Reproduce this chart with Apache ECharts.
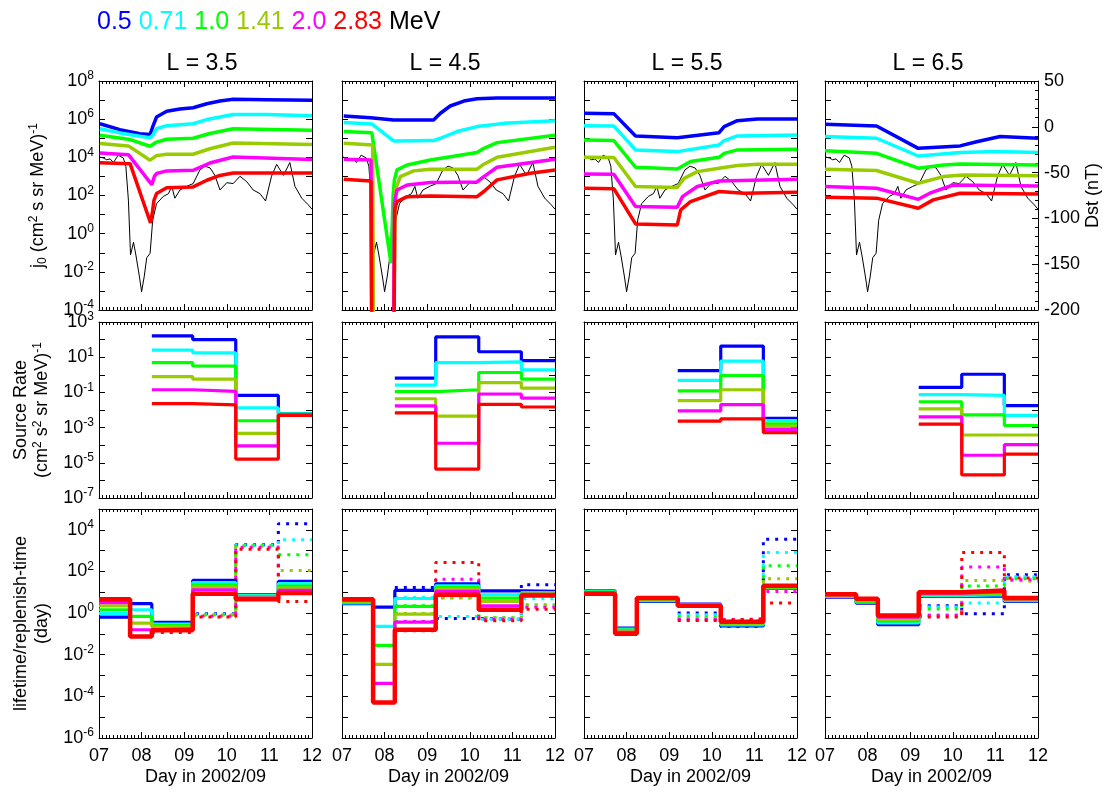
<!DOCTYPE html>
<html>
<head>
<meta charset="utf-8">
<script src="https://cdn.jsdelivr.net/npm/echarts@6/dist/echarts.min.js"></script>
<style>html,body{margin:0;padding:0;background:#fff;}#c{width:1109px;height:793px;}</style>
</head>
<body>
<div id="c"></div>
<script>
// ---------------- data ----------------
const energies = ['0.5', '0.71', '1.0', '1.41', '2.0', '2.83'];
const colors = ['#0000ff', '#00ffff', '#00ff00', '#99cc00', '#ff00ff', '#ff0000'];
const Lshells = ['3.5', '4.5', '5.5', '6.5'];
const dayTicks = [7, 8, 9, 10, 11, 12];
// bin edges (day of 2002/09) of the step-wise quantities
const binEdges = [7.0, 7.73, 8.24, 9.2, 10.21, 11.21, 12.0];

// Dst index (nT), [day, Dst]
const dst = [[7.02,-33],[7.1,-34],[7.18,-36],[7.26,-35],[7.34,-39],[7.45,-31],[7.57,-34],[7.63,-43],[7.69,-80],[7.74,-140],[7.81,-126],[7.87,-141],[7.95,-164],[8.0,-180],[8.06,-164],[8.12,-143],[8.2,-138],[8.26,-102],[8.35,-84],[8.51,-76],[8.63,-73],[8.71,-65],[8.78,-78],[8.9,-69],[9.06,-65],[9.21,-62],[9.37,-47],[9.49,-43],[9.61,-45],[9.72,-53],[9.84,-69],[10.0,-61],[10.15,-62],[10.31,-54],[10.47,-60],[10.62,-69],[10.78,-73],[10.91,-81],[11.05,-54],[11.17,-41],[11.33,-53],[11.48,-39],[11.6,-65],[11.76,-78],[11.91,-85],[12.0,-90]];

// j0 flux, [day, log10 j0] for the six energies (low -> high)
const fluxL35 = [
  [[7.02,5.76],[7.49,5.45],[7.96,5.24],[8.2,5.2],[8.26,5.59],[8.35,6.11],[8.59,6.41],[8.9,6.53],[9.21,6.6],[9.53,6.81],[9.84,6.95],[10.15,7.04],[10.94,7.02],[12,6.99]],
  [[7.02,5.5],[7.49,5.28],[7.96,5.1],[8.2,5.03],[8.26,5.15],[8.35,5.5],[8.59,5.66],[8.9,5.71],[9.21,5.76],[9.53,5.98],[10.15,6.24],[10.94,6.24],[12,6.18]],
  [[7.02,5.16],[7.73,4.93],[8.2,4.58],[8.35,4.8],[8.59,4.95],[9.21,5.0],[9.6,5.25],[10.15,5.5],[12,5.42]],
  [[7.02,4.72],[7.69,4.6],[8.2,3.85],[8.35,4.09],[8.59,4.16],[9.21,4.16],[9.6,4.45],[10.15,4.75],[12,4.67]],
  [[7.02,4.23],[7.69,4.14],[8.24,2.57],[8.3,3.0],[8.35,3.15],[8.59,3.29],[9.21,3.32],[9.6,3.7],[10.15,4.02],[12,3.88]],
  [[7.02,3.71],[7.73,3.67],[8.21,0.56],[8.26,1.23],[8.29,1.75],[8.35,2.1],[8.59,2.41],[9.21,2.45],[9.53,2.8],[9.84,3.05],[10.15,3.18],[12,3.18]]
];
const fluxL45 = [
  [[7.04,6.17],[7.67,6.08],[8.21,5.96],[9.15,5.96],[9.31,6.31],[9.54,6.69],[9.86,6.95],[10.17,7.07],[10.64,7.11],[12,7.11]],
  [[7.04,5.82],[7.7,5.75],[8.21,4.86],[9.15,4.88],[9.31,5.0],[9.7,5.35],[10.17,5.61],[10.8,5.78],[12,5.92]],
  [[7.04,5.36],[7.7,5.29],[8.15,-1.55],[8.2,2.0],[8.23,2.82],[8.29,3.34],[8.53,3.6],[9.07,3.86],[10.17,4.25],[10.33,4.47],[10.64,4.77],[12,5.16]],
  [[7.04,4.74],[7.72,4.65],[7.74,-6],[8.21,-6],[8.25,2.29],[8.37,2.99],[8.68,3.29],[9.07,3.38],[10.17,3.38],[10.33,3.64],[10.64,4.0],[12,4.53]],
  [[7.04,3.9],[7.68,3.86],[7.7,-6],[8.21,-6],[8.23,1.6],[8.29,2.29],[8.53,2.55],[9.07,2.68],[10.17,2.71],[10.33,2.99],[10.64,3.48],[12,3.9]],
  [[7.04,2.85],[7.68,2.76],[7.7,-6],[8.22,-6],[8.24,1.25],[8.29,1.68],[8.53,1.94],[9.07,1.98],[10.17,1.94],[10.33,2.21],[10.64,2.82],[11.42,3.17],[12,3.34]]
];
const fluxL55 = [
  [[7,6.31],[7.7,6.29],[8.21,5.12],[9.19,5.03],[10.17,5.29],[10.29,5.61],[10.6,5.92],[11.07,6.01],[12,6.01]],
  [[7,5.66],[7.7,5.64],[8.21,4.39],[9.19,4.3],[10.17,4.65],[10.29,4.88],[10.6,5.12],[12,5.17]],
  [[7,4.91],[7.7,4.88],[8.21,3.48],[9.19,3.39],[9.5,3.78],[10.17,4.0],[10.29,4.21],[10.6,4.39],[12,4.42]],
  [[7,4.0],[7.7,3.99],[8.21,2.47],[9.19,2.42],[9.35,2.9],[9.66,3.25],[10.17,3.43],[10.6,3.57],[11.07,3.64],[12,3.64]],
  [[7,3.13],[7.7,3.11],[8.21,1.42],[9.19,1.39],[9.31,1.94],[9.66,2.47],[10.17,2.76],[12,2.85]],
  [[7,2.38],[7.7,2.36],[8.21,0.51],[9.19,0.46],[9.27,1.25],[9.5,1.68],[10.17,2.21],[10.76,2.12],[12,2.17]]
];
const fluxL65 = [
  [[7,5.73],[8.21,5.64],[9.19,4.47],[10.17,4.6],[10.56,4.82],[11.11,5.09],[12,5.0]],
  [[7,5.09],[8.21,5.0],[9.19,4.07],[10.17,4.25],[11.03,4.3],[12,4.25]],
  [[7,4.34],[8.21,4.21],[9.19,3.43],[9.78,3.6],[10.17,3.65],[12,3.6]],
  [[7,3.38],[8.21,3.31],[9.19,2.64],[9.78,2.99],[10.25,3.08],[12,3.03]],
  [[7,2.47],[8.21,2.38],[9.19,1.8],[9.46,2.12],[10.01,2.55],[12,2.5]],
  [[7,1.91],[8.21,1.86],[9.19,1.33],[9.54,1.77],[10.17,2.12],[12,2.08]]
];

// source rate, log10, per bin (binEdges[i]..binEdges[i+1]); null = not shown
const srcL35 = [
  [null,null, 2.21, 2.0, -1.17, -2.2],
  [null,null, 1.4, 1.25, -1.88, -2.22],
  [null,null, 0.69, 0.5, -2.61, -2.25],
  [null,null, -0.1, -0.25, -3.33, -2.27],
  [null,null, -0.85, -0.94, -4.04, -2.28],
  [null,null, -1.64, -1.71, -4.79, -2.3]
];
const srcL45 = [
  [null,null, -0.19, 2.15, 1.31, 0.8],
  [null,null, -0.59, 0.69, 0.73, 0.28],
  [null,null, -0.96, -0.85, 0.13, -0.25],
  [null,null, -1.36, -2.35, -0.44, -0.76],
  [null,null, -1.77, -3.89, -1.09, -1.32],
  [null,null, -2.16, -5.36, -1.68, -1.83]
];
const srcL55 = [
  [null,null,null, 0.24, 1.63, -2.48],
  [null,null,null, -0.32, 0.78, -2.6],
  [null,null,null, -0.91, -0.04, -2.78],
  [null,null,null, -1.47, -0.85, -2.92],
  [null,null,null, -2.05, -1.69, -3.1],
  [null,null,null, -2.63, -2.5, -3.29]
];
const srcL65 = [
  [null,null,null, -0.72, 0.03, -1.75],
  [null,null,null, -1.13, -1.17, -2.31],
  [null,null,null, -1.53, -2.28, -2.88],
  [null,null,null, -1.94, -3.42, -3.42],
  [null,null,null, -2.39, -4.57, -3.97],
  [null,null,null, -2.8, -5.69, -4.51]
];

// lifetime (solid), log10 day, per bin
const lifeL35 = [
  [-0.19, 0.45, -0.45, 1.57, 0.88, 1.52],
  [-0.02, 0.16, -0.53, 1.47, 0.84, 1.42],
  [0.16, -0.16, -0.6, 1.36, 0.8, 1.3],
  [0.35, -0.48, -0.66, 1.25, 0.76, 1.2],
  [0.5, -0.8, -0.74, 1.12, 0.72, 1.09],
  [0.67, -1.12, -0.83, 0.93, 0.67, 0.96]
];
const lifeL45 = [
  [0.45, 0.29, 1.09, 1.41, 1.07, 1.04],
  [0.49, -0.64, 0.7, 1.31, 0.88, 0.99],
  [0.53, -1.55, 0.32, 1.23, 0.72, 0.96],
  [0.57, -2.46, -0.05, 1.15, 0.56, 0.93],
  [0.62, -3.38, -0.43, 1.04, 0.35, 0.9],
  [0.67, -4.29, -0.8, 0.88, 0.16, 0.85]
];
const lifeL55 = [
  [1.07, -0.72, 0.56, 0.43, -0.61, 1.2],
  [1.04, -0.77, 0.6, 0.41, -0.57, 1.22],
  [1.01, -0.82, 0.64, 0.39, -0.52, 1.24],
  [0.98, -0.87, 0.67, 0.38, -0.48, 1.26],
  [0.96, -0.93, 0.7, 0.36, -0.45, 1.28],
  [0.93, -0.99, 0.72, 0.35, -0.42, 1.31]
];
const lifeL65 = [
  [0.77, 0.48, -0.56, 0.8, 0.83, 0.56],
  [0.8, 0.52, -0.47, 0.84, 0.88, 0.6],
  [0.83, 0.56, -0.38, 0.88, 0.93, 0.63],
  [0.85, 0.6, -0.29, 0.92, 0.98, 0.66],
  [0.88, 0.65, -0.2, 0.96, 1.03, 0.69],
  [0.91, 0.69, -0.11, 1.0, 1.09, 0.72]
];

// replenish-time (dotted), log10 day, per bin
const replL35 = [
  [null,null, -0.5, -0.03, 3.28, 4.29],
  [null,null, -0.55, -0.05, 3.26, 3.52],
  [null,null, -0.62, -0.08, 3.24, 2.8],
  [null,null, -0.7, -0.11, 3.2, 2.05],
  [null,null, -0.8, -0.15, 3.15, 1.2],
  [null,null, -0.93, -0.19, 3.07, 0.56]
];
const replL45 = [
  [null,null, 1.23, -0.26, -0.3, 1.36],
  [null,null, 0.75, -0.16, -0.3, 0.69],
  [null,null, 0.35, 0.72, -0.22, 0.4],
  [null,null, -0.02, 0.75, -0.24, 0.35],
  [null,null, -0.4, 1.63, -0.3, 0.28],
  [null,null, -0.85, 2.43, -0.37, 0.19]
];
const replL55 = [
  [null,null,null, 0.0, -0.64, 3.55],
  [null,null,null, -0.08, -0.55, 2.91],
  [null,null,null, -0.19, -0.45, 2.27],
  [null,null,null, -0.27, -0.38, 1.65],
  [null,null,null, -0.31, -0.32, 1.04],
  [null,null,null, -0.35, -0.27, 0.48]
];
const replL65 = [
  [null,null,null, 0.35, -0.03, 1.84],
  [null,null,null, 0.29, 0.48, 1.75],
  [null,null,null, 0.2, 1.3, 1.65],
  [null,null,null, -0.08, 1.57, 1.52],
  [null,null,null, -0.12, 2.21, 1.6],
  [null,null,null, -0.19, 2.91, 1.68]
];

const fluxAll = [fluxL35, fluxL45, fluxL55, fluxL65];
const srcAll = [srcL35, srcL45, srcL55, srcL65];
const lifeAll = [lifeL35, lifeL45, lifeL55, lifeL65];
const replAll = [replL35, replL45, replL55, replL65];

// ---------------- layout ----------------
const FONT = 'Liberation Sans, Arial, Helvetica, sans-serif';
const colLeft = [99, 342, 584, 825];
const colW = 213;
const rowTop = [81, 322, 509];
const rowH = [229, 176, 229];
const yRange = [[-4, 8], [-7, 3], [-6, 5]];

function stepData(vals) {
  const out = [];
  let last = null, lastI = -1;
  vals.forEach((v, i) => {
    if (v !== null) { out.push([binEdges[i], v]); last = v; lastI = i; }
  });
  if (lastI >= 0) out.push([binEdges[lastI + 1], last]);
  return out;
}

const txt = {color: '#000', fontFamily: FONT};
const expRich = {
  b: {fontSize: 18, lineHeight: 22, verticalAlign: 'middle', color: '#000', fontFamily: FONT},
  s: {fontSize: 12, lineHeight: 12, verticalAlign: 'top', color: '#000', fontFamily: FONT}
};
const nameRich = {
  n: {fontSize: 18, lineHeight: 21, verticalAlign: 'middle', color: '#000', fontFamily: FONT},
  sup: {fontSize: 12, lineHeight: 12, verticalAlign: 'top', color: '#000', fontFamily: FONT},
  sub: {fontSize: 12, lineHeight: 12, verticalAlign: 'bottom', color: '#000', fontFamily: FONT}
};
const axisLineStyle = {onZero: false, lineStyle: {color: '#000', width: 1}};
const tickStyle = {inside: true, length: 6, lineStyle: {color: '#000', width: 1}};

const grids = [], xAxes = [], yAxes = [], series = [];
const yNames = [
  '{n|j}{sub|0}{n| (cm}{sup|2}{n| s sr MeV)}{sup|-1}',
  '{n|Source Rate}\n{n|(cm}{sup|2}{n| s}{sup|2}{n| sr MeV)}{sup|-1}',
  '{n|lifetime/replenish-time}\n{n|(day)}'
];
const yNameGap = [50, 46, 46];
const labelKeep = [
  v => Math.round(v) % 2 === 0,
  v => Math.abs(Math.round(v) % 2) === 1,
  v => Math.round(v) % 2 === 0 && v < 5
];

for (let r = 0; r < 3; r++) {
  for (let c = 0; c < 4; c++) {
    const g = grids.length;
    grids.push({left: colLeft[c], top: rowTop[r], width: colW, height: rowH[r]});
    const xb = xAxes.length;
    xAxes.push({
      gridIndex: g, type: 'value', min: 7, max: 12, interval: 1, position: 'bottom',
      axisLine: axisLineStyle, axisTick: tickStyle,
      minorTick: {show: true, splitNumber: 12, length: 3, lineStyle: {color: '#000', width: 1}},
      splitLine: {show: false},
      axisLabel: {show: r === 2, fontSize: 18, margin: 9, ...txt,
        formatter: v => (v < 10 ? '0' : '') + v},
      name: r === 2 ? 'Day in 2002/09' : '', nameLocation: 'middle', nameGap: 30,
      nameTextStyle: {fontSize: 18, ...txt}
    });
    xAxes.push({
      gridIndex: g, type: 'value', min: 7, max: 12, interval: 1, position: 'top',
      axisLine: axisLineStyle, axisTick: tickStyle,
      minorTick: {show: true, splitNumber: 12, length: 3, lineStyle: {color: '#000', width: 1}},
      splitLine: {show: false}, axisLabel: {show: false}
    });
    const yl = yAxes.length;
    const keep = labelKeep[r];
    yAxes.push({
      gridIndex: g, type: 'value', min: yRange[r][0], max: yRange[r][1], interval: 1, position: 'left',
      axisLine: axisLineStyle, axisTick: tickStyle, splitLine: {show: false},
      axisLabel: {show: c === 0, margin: 5, rich: expRich,
        formatter: v => keep(v) ? '{b|10}{s|' + Math.round(v) + '}' : ''},
      name: c === 0 ? yNames[r] : '', nameLocation: 'middle', nameRotate: 90, nameGap: yNameGap[r],
      nameTextStyle: {rich: nameRich, align: 'center'}
    });
    if (!(r === 0 && c === 3)) {
      yAxes.push({
        gridIndex: g, type: 'value', min: yRange[r][0], max: yRange[r][1], interval: 1, position: 'right',
        axisLine: axisLineStyle, axisTick: tickStyle, splitLine: {show: false}, axisLabel: {show: false}
      });
    }
    if (r === 0) {
      const yd = yAxes.length;
      yAxes.push({
        gridIndex: g, type: 'value', min: -200, max: 50, interval: 50, position: 'right',
        show: c === 3,
        axisLine: axisLineStyle, axisTick: tickStyle,
        minorTick: {show: true, splitNumber: 5, length: 3, lineStyle: {color: '#000', width: 1}},
        splitLine: {show: false},
        axisLabel: {fontSize: 18, margin: 6, ...txt},
        name: c === 3 ? 'Dst (nT)' : '', nameLocation: 'middle', nameRotate: 90, nameGap: 46,
        nameTextStyle: {fontSize: 18, ...txt}
      });
      series.push({type: 'line', xAxisIndex: xb, yAxisIndex: yd, data: dst, symbol: 'none',
        clip: true, z: 1, lineStyle: {color: '#000', width: 1}});
      fluxAll[c].forEach((d, e) => {
        series.push({type: 'line', xAxisIndex: xb, yAxisIndex: yl, data: d, symbol: 'none',
          clip: true, z: 2 + e, lineStyle: {color: colors[e], width: 3.5}});
      });
    } else if (r === 1) {
      srcAll[c].forEach((vals, e) => {
        series.push({type: 'line', step: 'end', xAxisIndex: xb, yAxisIndex: yl, data: stepData(vals),
          symbol: 'none', clip: true, z: 2 + e, lineStyle: {color: colors[e], width: 3.2}});
      });
    } else {
      replAll[c].forEach((vals, e) => {
        series.push({type: 'line', step: 'end', xAxisIndex: xb, yAxisIndex: yl, data: stepData(vals),
          symbol: 'none', clip: true, z: 2 + e,
          lineStyle: {color: colors[e], width: 3, type: [3, 6], cap: 'butt'}});
      });
      lifeAll[c].forEach((vals, e) => {
        series.push({type: 'line', step: 'end', xAxisIndex: xb, yAxisIndex: yl, data: stepData(vals),
          symbol: 'none', clip: true, z: 10 + e,
          lineStyle: {color: colors[e], width: e === 5 ? 4.5 : 3.2}});
      });
    }
  }
}

const legendRich = {};
const keys = ['e0', 'e1', 'e2', 'e3', 'e4', 'e5'];
keys.forEach((k, i) => { legendRich[k] = {fill: colors[i], fontSize: 25, fontFamily: FONT}; });
legendRich.k = {fill: '#000', fontSize: 25, fontFamily: FONT};
const legendText = energies.map((e, i) => '{' + keys[i] + '|' + e + '}').join(' ') + ' {k|MeV}';

const graphics = [{
  type: 'text', left: 97, top: 10,
  style: {text: legendText, rich: legendRich, font: '25px ' + FONT, fill: '#000'}
}];
Lshells.forEach((L, c) => {
  graphics.push({type: 'text', left: colLeft[c] + colW / 2 - 39, top: 52,
    style: {text: 'L = ' + L, font: '23px ' + FONT, fill: '#000'}});
});

const chart = echarts.init(document.getElementById('c'), null, {renderer: 'canvas'});
chart.setOption({
  animation: false,
  backgroundColor: '#fff',
  grid: grids, xAxis: xAxes, yAxis: yAxes, series: series, graphic: graphics
});
</script>
</body>
</html>
